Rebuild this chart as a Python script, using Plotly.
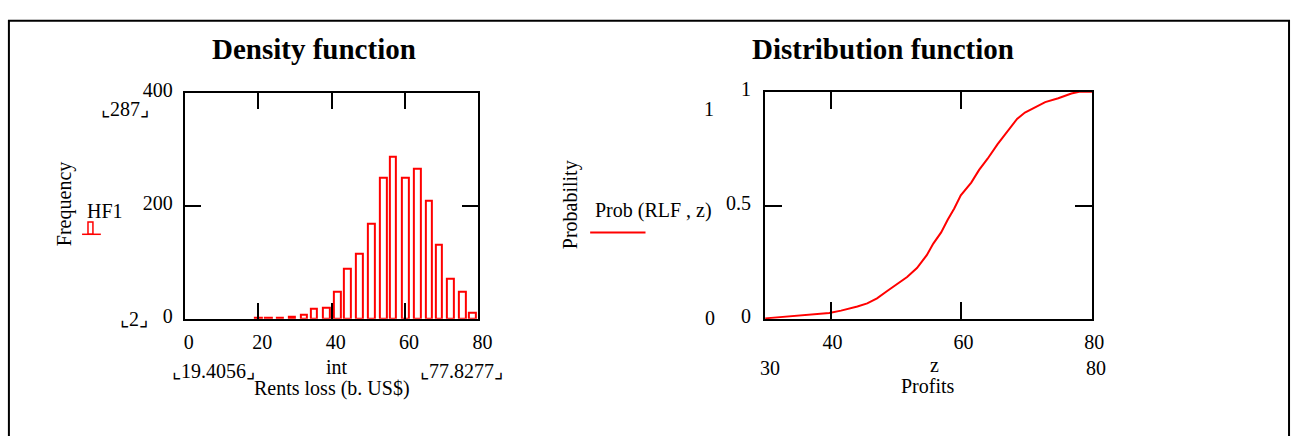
import plotly.graph_objects as go

W, H = 1306, 436

# ---------------- data ----------------
# Density function (histogram of rents loss)
int_pts = [20.0, 22.7, 25.9, 29.2, 32.4, 35.1, 38.5, 41.6, 44.3, 47.6,
           50.8, 54.1, 56.7, 60.1, 63.3, 66.5, 69.2, 72.4, 75.6, 78.3]
hf1 = [2, 2, 2, 4, 7, 17, 20, 48, 88, 115,
       168, 249, 287, 249, 266, 209, 131, 71, 48, 10]

# Distribution function (empirical CDF of profits)
z_pts = [30.0, 34.3, 37.3, 39.8, 41.6, 42.9, 44.1, 45.6, 47.1, 48.6,
         50.2, 51.7, 53.2, 54.7, 55.7, 56.9, 57.9, 58.9, 59.9, 61.5,
         62.7, 64.0, 65.5, 67.0, 68.5, 69.7, 71.2, 72.8, 74.8, 76.8,
         78.0, 80.0]
prob = [0.004, 0.014, 0.021, 0.028, 0.038, 0.046, 0.056, 0.070, 0.092, 0.123,
        0.154, 0.186, 0.225, 0.282, 0.333, 0.382, 0.438, 0.487, 0.545, 0.601,
        0.657, 0.706, 0.769, 0.825, 0.881, 0.909, 0.933, 0.955, 0.972, 0.993,
        1.0, 1.0]

left_xticks = [0, 20, 40, 60, 80]
left_yticks = [0, 200, 400]
right_xticks = [40, 60, 80]
right_yticks = [0, 0.5, 1]
right_yticklabels = ["0", "0.5", "1"]

# ---------------- helpers ----------------
def px(x):
    return x / W

def py(y):
    return 1 - y / H

FONT = "Liberation Serif"
TXT = 20
TITLE = 29
RED = "#ff0000"

fig = go.Figure()

fig.add_trace(go.Bar(
    x=int_pts, y=hf1, width=1.75,
    marker=dict(color="rgba(0,0,0,0)", line=dict(color=RED, width=2)),
    xaxis="x", yaxis="y", showlegend=False,
))

fig.add_trace(go.Scatter(
    x=z_pts, y=prob, mode="lines",
    line=dict(color=RED, width=2),
    xaxis="x2", yaxis="y2", showlegend=False,
))

axis_common = dict(
    showline=True, linecolor="black", linewidth=2, mirror="ticks",
    ticks="inside", tickcolor="black", tickwidth=2,
    showgrid=False, zeroline=False,
    tickfont=dict(family=FONT, size=TXT, color="black"),
)

fig.update_layout(
    width=W, height=H,
    margin=dict(l=0, r=0, t=0, b=0),
    paper_bgcolor="white", plot_bgcolor="white",
    font=dict(family=FONT, size=TXT, color="black"),
    bargap=0,
    xaxis=dict(domain=[px(186), px(483)], range=[0, 80], anchor="y",
               tickvals=left_xticks, ticklen=16, ticklabelshift=4,
               ticklabelstandoff=4, **axis_common),
    yaxis=dict(domain=[py(321), py(83)], range=[0, 400], anchor="x",
               tickvals=left_yticks, ticklen=16, ticklabelstandoff=6,
               ticklabelshift=-3, **axis_common),
    xaxis2=dict(domain=[px(773), px(1104)], range=[30, 80], anchor="y2",
                tickvals=right_xticks, ticklen=17, ticklabelstandoff=4,
                ticklabelshift=2, **axis_common),
    yaxis2=dict(domain=[py(321.5), py(82)], range=[0, 1], anchor="x2",
                tickvals=right_yticks, ticktext=right_yticklabels, ticklen=17,
                ticklabelstandoff=8, ticklabelshift=-3, **axis_common),
)

def ann(text, x, y, size=TXT, angle=0, bold=False, xanchor="center"):
    fig.add_annotation(
        text=f"<b>{text}</b>" if bold else text,
        x=px(x), y=py(y), xref="paper", yref="paper",
        xanchor=xanchor, yanchor="middle", showarrow=False,
        textangle=angle,
        font=dict(family=FONT, size=size, color="black"),
    )

# titles
ann("Density function", 317, 37, size=TITLE, bold=True)
ann("Distribution function", 892, 37, size=TITLE, bold=True)

# left chart labels
ann("⌞287⌟", 125, 100)
ann("⌞2⌟", 135, 321)
ann("Frequency", 65, 200, angle=-90)
ann("HF1", 105, 207)
ann("⌞19.4056⌟", 215, 376)
ann("int", 340, 372)
ann("⌞77.8277⌟", 466, 376)
ann("Rents loss (b. US$)", 335, 394)

# right chart labels
ann("1", 716, 100)
ann("0", 717, 320)
ann("Probability", 576, 201, angle=-90)
ann("Prob (RLF , z)", 660, 207)
ann("30", 778, 373)
ann("z", 944, 370)
ann("80", 1108, 373)
ann("Profits", 938, 392)

shapes = [
    # outer frame (bottom edge lies beyond the visible page)
    dict(type="rect", xref="paper", yref="paper",
         x0=px(8), x1=px(1303), y0=py(460), y1=py(7),
         line=dict(color="black", width=2), fillcolor="rgba(0,0,0,0)"),
    # HF1 legend symbol
    dict(type="rect", xref="paper", yref="paper",
         x0=px(88), x1=px(93), y0=py(232), y1=py(219),
         line=dict(color=RED, width=1.5), fillcolor="rgba(0,0,0,0)"),
    dict(type="line", xref="paper", yref="paper",
         x0=px(82), x1=px(101), y0=py(232), y1=py(232),
         line=dict(color=RED, width=1.5)),
    # Prob legend line
    dict(type="line", xref="paper", yref="paper",
         x0=px(596), x1=px(652), y0=py(230), y1=py(230),
         line=dict(color=RED, width=2)),
]
fig.update_layout(shapes=shapes)

fig.write_html("out.html")
